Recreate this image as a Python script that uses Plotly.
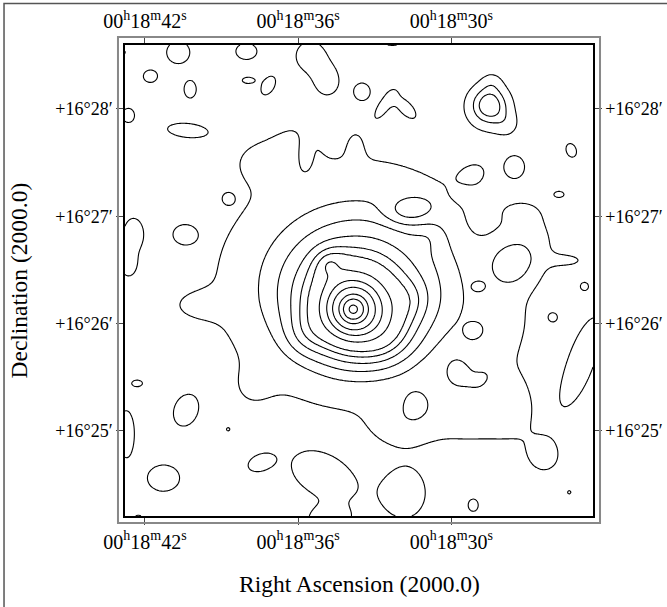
import numpy as np
import plotly.graph_objects as go

# ---- axis ticks ----
ra_tick_sec = [42, 36, 30]
ra_tick_text = ["00<sup>h</sup>18<sup>m</sup>42<sup>s</sup>",
                "00<sup>h</sup>18<sup>m</sup>36<sup>s</sup>",
                "00<sup>h</sup>18<sup>m</sup>30<sup>s</sup>"]
dec_tick_min = [28, 27, 26, 25]
dec_tick_text = ["+16°28′", "+16°27′", "+16°26′", "+16°25′"]

ra_range = [42.78, 24.45]     # seconds of 00h18m (east to the left)
dec_range = [24.208, 28.596]  # arcmin of +16 deg
dec0_deg = 16.0 + 26.4 / 60.0

contour_levels = [0.8, 1.58, 2.12, 2.72, 3.31, 3.89, 5.26, 6.63, 8.17, 10.28, 12.36, 17.2]

# ---- extended emission: RA (s), Dec ('), amplitude, sigma major/minor (arcsec), pa (deg) ----
ext_ra = [33.84, 33.84, 33.84, 33.57, 33.76, 34.74, 34.74,
          32.59, 35.72, 31.61,
          40.03, 37.41, 36.11, 33.76, 35.76,
          26.71, 27.30, 28.95, 25.34, 28.08, 27.38, 26.32, 29.26, 32.00, 37.88,
          30.83, 29.57,
          28.51, 27.77, 28.40]
ext_dec = [26.134, 26.134, 26.134, 26.330, 26.497, 26.544, 26.535,
           25.892, 25.892, 26.218,
           26.171, 27.522, 27.690, 27.690, 27.569,
           26.777, 27.056, 26.944, 26.590, 26.031, 25.286, 24.746, 25.053, 25.053, 25.379,
           26.823, 27.224,
           28.035, 27.848, 28.260]
ext_amp = [6.0, 6.0, 4.0, 2.6, 0.7, 0.9, 1.0,
           0.8, 0.5, 0.5,
           0.5, 0.55, 0.4, 0.3, -0.45,
           0.6, 0.35, -0.3, 0.65, 0.45, 0.55, 0.8, 0.6, 0.65, 0.35,
           0.3, -0.25,
           2.4, 0.6, 0.5]
ext_sx = [2.8, 7.9, 16.9, 42.1, 73.0, 6.7, 2.5,
          11.2, 8.4, 8.4,
          12.4, 14.0, 10.1, 4.5, 3.4,
          10.1, 10.1, 6.7, 9.0, 14.0, 12.4, 9.0, 22.5, 12.4, 10.1,
          6.7, 5.6,
          8.4, 5.6, 4.5]
ext_sy = [2.8, 7.9, 16.9, 34.8, 73.0, 6.7, 2.5,
          11.2, 8.4, 8.4,
          6.7, 10.1, 10.1, 7.9, 7.9,
          14.0, 5.6, 7.9, 3.4, 14.0, 19.7, 9.0, 14.0, 9.0, 10.1,
          6.7, 4.5,
          8.4, 5.6, 4.5]
ext_pa = [0] * 30

# ---- small isolated features: RA (s), Dec ('), contour radii (arcsec), pa (deg), level index ----
feat_ra = [42.93, 40.70, 38.03, 41.79, 40.23, 37.95, 37.17, 42.65, 40.38, 38.78,
           42.46, 40.50, 42.65, 33.49, 35.53, 34.86, 32.31, 32.59, 31.80,
           25.30, 29.14, 27.50, 25.77,
           42.30, 40.42, 42.73, 38.74, 41.28, 37.52, 34.98, 42.26, 34.82, 31.80,
           29.14, 25.38, 24.79, 26.01,
           27.61, 28.91, 29.10, 31.33, 24.87, 29.90, 31.65]
feat_dec = [28.528, 28.528, 28.538, 28.305, 28.184, 28.267, 28.221, 27.941, 27.802, 27.168,
            26.833, 26.833, 26.544, 28.165, 28.500, 28.267, 28.659, 28.044, 28.016,
            27.615, 27.392, 27.466, 27.205,
            25.444, 25.184, 24.969, 25.016, 24.559, 24.699, 24.559, 24.168, 24.168, 24.401,
            24.308, 24.429, 26.348, 26.059,
            26.562, 26.348, 25.910, 25.258, 25.659, 25.600, 27.056]
feat_rx = [2.25, 6.5, 5.9, 3.9, 3.4, 3.4, 5.6, 3.4, 11.2, 3.4,
           5.6, 6.7, 3.9, 4.5, 7.9, 6.2, 7.9, 7.9, 7.3,
           3.9, 7.9, 5.6, 2.8,
           2.8, 9.0, 4.5, 0.9, 9.0, 6.2, 19.1, 2.8, 9.6, 11.2,
           2.8, 0.9, 2.0, 2.5,
           9.6, 2.8, 5.1, 6.7, 25.3, 4.8, 9.0]
feat_ry = [2.25, 6.2, 4.5, 3.4, 4.8, 1.7, 3.4, 3.9, 3.9, 3.4,
           9.0, 5.6, 5.6, 4.8, 7.9, 7.3, 3.9, 2.8, 3.4,
           2.8, 5.6, 6.2, 1.7,
           1.7, 6.7, 12.9, 0.9, 7.3, 3.9, 11.2, 2.8, 5.6, 12.9,
           3.4, 0.9, 2.0, 2.5,
           10.1, 2.25, 4.5, 6.7, 7.3, 5.8, 5.1]
feat_pa = [0, 0, 0, 0, 0, 0, 60, 0, -5, 0,
           0, 0, 0, 0, 0, 0, 0, 55, -45,
           110, 35, 0, 0,
           0, 70, 0, 0, 0, 20, -25, 0, 0, 0,
           0, 0, 0, 0,
           0, 0, 30, 0, 71, 0, 0]
feat_level = [1] * 37 + [2, 2, 2, 2, 1, 1, 1]

# ---- build the surface ----
k_ra = 15.0 * np.cos(np.radians(dec0_deg))  # arcsec per second of RA


def gauss(ra, dec, ra_c, dec_c, amp, sx, sy, pa):
    dx = -(ra - ra_c) * k_ra
    dy = (dec - dec_c) * 60.0
    t = np.radians(pa)
    u = dx * np.cos(t) + dy * np.sin(t)
    v = -dx * np.sin(t) + dy * np.cos(t)
    return amp * np.exp(-0.5 * ((u / sx) ** 2 + (v / sy) ** 2))


def extended(ra, dec):
    tot = 0.0
    for c in zip(ext_ra, ext_dec, ext_amp, ext_sx, ext_sy, ext_pa):
        tot = tot + gauss(ra, dec, *c)
    return tot


ra_grid = np.linspace(ra_range[1], ra_range[0], 400)
dec_grid = np.linspace(dec_range[0], dec_range[1], 400)
RA, DEC = np.meshgrid(ra_grid, dec_grid)
field = extended(RA, DEC)
for ra_c, dec_c, rx, ry, pa, lvl in zip(feat_ra, feat_dec, feat_rx, feat_ry, feat_pa, feat_level):
    bg = float(extended(np.array(ra_c), np.array(dec_c)))
    gap = contour_levels[lvl - 1] - bg
    amp = np.sign(gap) * max(abs(gap) * np.exp(0.5), 0.3)
    scale = np.sqrt(2.0 * np.log(amp / gap))
    field = field + gauss(RA, DEC, ra_c, dec_c, amp, rx / scale, ry / scale, pa)

lv = np.array(contour_levels)
idx = np.interp(field, np.concatenate([[-5.0, 0.0], lv]), np.arange(-1, len(lv) + 1))
idx = np.where(field > lv[-1], len(lv) + (field - lv[-1]) / 4.0, idx)
idx = np.round(idx, 3)

fig = go.Figure()
fig.add_trace(go.Contour(
    x=ra_grid, y=dec_grid, z=idx,
    contours=dict(start=1, end=len(lv), size=1, coloring="none"),
    line=dict(color="black", width=1.1, smoothing=1.0),
    showscale=False, hoverinfo="skip"))
fig.add_trace(go.Scatter(x=[None], y=[None], xaxis="x2", yaxis="y2",
                         showlegend=False, hoverinfo="skip"))

xfont = dict(family="Liberation Serif", size=20, color="black")
yfont = dict(family="Liberation Serif", size=18, color="black")
common = dict(ticks="outside", ticklen=7, tickwidth=1, tickcolor="#444",
              showgrid=False, zeroline=False, showline=True, linecolor="black",
              linewidth=1.5, automargin=False)
fig.update_layout(
    width=667, height=607,
    margin=dict(l=125, r=74, t=45, b=91, autoexpand=False),
    paper_bgcolor="white", plot_bgcolor="white",
    showlegend=False,
    xaxis=dict(range=ra_range, tickvals=ra_tick_sec, ticktext=ra_tick_text, mirror=True,
               tickfont=xfont, **common),
    xaxis2=dict(range=ra_range, tickvals=ra_tick_sec, ticktext=ra_tick_text,
                overlaying="x", side="top", tickfont=xfont, **common),
    yaxis=dict(range=dec_range, tickvals=dec_tick_min, ticktext=dec_tick_text, mirror=True,
               tickfont=yfont, **common),
    yaxis2=dict(range=dec_range, tickvals=dec_tick_min, ticktext=dec_tick_text,
                overlaying="y", side="right", tickfont=yfont, **common),
    shapes=[
        dict(type="rect", xref="paper", yref="paper", x0=-0.015, x1=1.015, y0=-0.0149, y1=1.017,
             line=dict(color="#888888", width=2)),
        dict(type="rect", xref="paper", yref="paper", x0=-0.2585, x1=1.3, y0=-0.3, y1=1.0881,
             line=dict(color="#555555", width=1.5)),
    ],
    annotations=[
        dict(text="Right Ascension (2000.0)", xref="paper", yref="paper", x=0.5, y=-0.1444,
             showarrow=False, font=dict(family="Liberation Serif", size=23.5, color="black"),
             xanchor="center", yanchor="middle"),
        dict(text="Declination (2000.0)", xref="paper", yref="paper", x=-0.2286, y=0.5,
             showarrow=False, textangle=-90,
             font=dict(family="Liberation Serif", size=23.5, color="black"),
             xanchor="center", yanchor="middle"),
    ],
)
fig.write_html("out.html", config={"displayModeBar": False},
               post_script="document.body.style.margin='0px';")
